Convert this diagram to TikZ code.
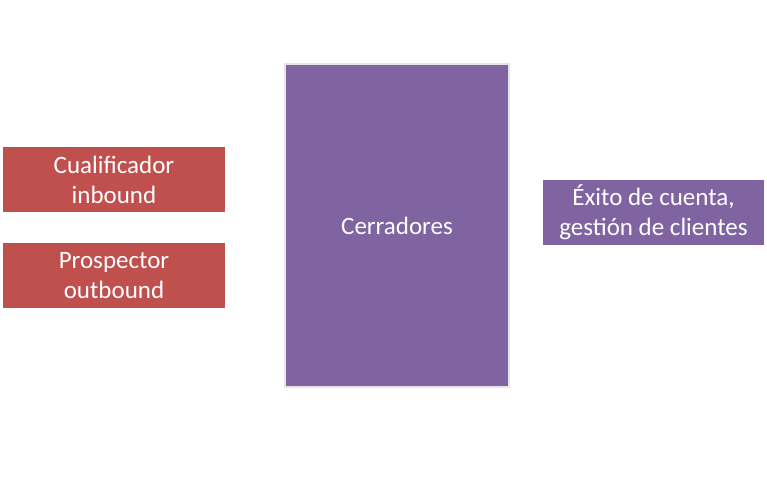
\documentclass[tikz,border=0pt]{standalone}
\usepackage{fontspec}
\setmainfont{Carlito}
\definecolor{boxred}{HTML}{C0504D}
\definecolor{boxpurple}{HTML}{8064A2}
\tikzset{
  role/.style={text=white, align=center, font=\fontsize{25}{30}\selectfont, inner sep=0pt},
}
\begin{document}
\begin{tikzpicture}[x=1pt, y=-1pt]
  \useasboundingbox (0, 0) rectangle (767, 484);
  % left column
  \node[role, fill=boxred, minimum width=222, minimum height=65] (inbound) at (114, 179.5) {Cualificador\\inbound};
  \node[role, fill=boxred, minimum width=222, minimum height=65] (outbound) at (114, 275.5) {Prospector\\outbound};
  % centre
  \node[role, fill=boxpurple, draw=gray!20, line width=1.5, minimum width=224, minimum height=323] (closers) at (397, 225.5) {Cerradores};
  % right
  \node[role, fill=boxpurple, minimum width=221, minimum height=65] (success) at (653.5, 212.5) {Éxito de cuenta,\\gestión de clientes};
\end{tikzpicture}
\end{document}
